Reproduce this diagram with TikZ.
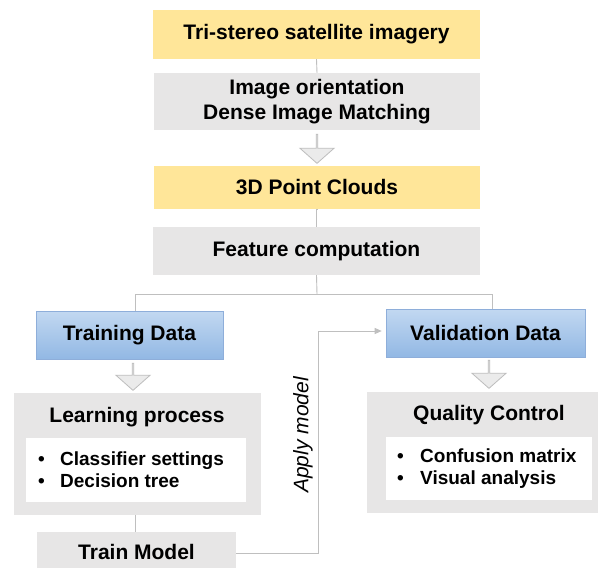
\documentclass[tikz,border=0pt]{standalone}
\usepackage{fontspec}
\setmainfont{Liberation Sans}
\usetikzlibrary{shapes.arrows,arrows.meta}
\definecolor{yel}{HTML}{FFE699}
\definecolor{gbox}{HTML}{E7E6E6}
\definecolor{bluetop}{HTML}{C2D8F1}
\definecolor{bluebot}{HTML}{92B8E4}
\definecolor{blueedge}{HTML}{8EAEDA}
\definecolor{linec}{HTML}{BFBFBF}
\definecolor{arrfill}{HTML}{EBEBEB}
\definecolor{arredge}{HTML}{BDBDBD}
\tikzset{
  box/.style={inner sep=0pt, align=center, font=\fontsize{21}{25}\selectfont\bfseries},
  yelbox/.style={box, fill=yel},
  graybox/.style={box, fill=gbox},
  bluebox/.style={box, top color=bluetop, bottom color=bluebot, draw=blueedge, line width=0.6pt},
  innerbox/.style={fill=white, inner sep=0pt},
  bullets/.style={inner sep=0pt, align=left, font=\fontsize{19}{22}\selectfont\bfseries},
  conn/.style={draw=linec, line width=0.9pt},
  blockarr/.style={single arrow, draw=arredge, fill=arrfill, line width=0.8pt, rotate=-90,
    minimum width=34pt, single arrow head extend=8.5pt, single arrow tip angle=97, inner sep=0pt},
}
\begin{document}
\begin{tikzpicture}[x=1pt, y=-1pt]
\clip (0,0) rectangle (598,568);
\fill[white] (0,0) rectangle (598,568);
% main column
\node[yelbox, minimum width=327pt, minimum height=49pt] (tri) at (316.5,34.5) {Tri-stereo satellite imagery};
\node[graybox, minimum width=326pt, minimum height=57pt] (img) at (317,101.5) {Image orientation\\Dense Image Matching};
\node[blockarr, minimum height=29pt] (a1) at (317,148.5) {};
\node[yelbox, minimum width=326pt, minimum height=43pt] (pc) at (317,187.5) {3D Point Clouds};
\node[graybox, minimum width=327pt, minimum height=48pt] (feat) at (316.5,251) {Feature computation};
% left branch
\node[bluebox, minimum width=187pt, minimum height=48pt] (train) at (129.5,335) {Training Data};
\node[blockarr, minimum height=27pt] (a2) at (133,376.5) {};
\node[graybox, minimum width=247pt, minimum height=122pt] (learn) at (137.5,454) {};
\node[box] (learnt) at (137,417) {Learning process};
\node[innerbox, minimum width=220pt, minimum height=64pt] (learnin) at (136,470) {};
\node[bullets, anchor=west] (learnb) at (38,470) {\makebox[22pt][l]{\textbullet}Classifier settings\\\makebox[22pt][l]{\textbullet}Decision tree};
\node[graybox, minimum width=199pt, minimum height=40pt] (tm) at (136.5,552) {Train Model};
% right branch
\node[bluebox, minimum width=199pt, minimum height=48pt] (val) at (485.5,333) {Validation Data};
\node[blockarr, minimum height=28pt] (a3) at (489,374) {};
\node[graybox, minimum width=234pt, minimum height=121pt] (qc) at (484,452.5) {};
\node[box] (qct) at (489,415) {Quality Control};
\node[innerbox, minimum width=206pt, minimum height=63pt] (qcin) at (489,468.5) {};
\node[bullets, anchor=west] (qcb) at (397,469) {\makebox[23pt][l]{\textbullet}Confusion matrix\\\makebox[23pt][l]{\textbullet}Visual analysis};
% connectors
\coordinate (split) at (317,294);
\coordinate (sl) at (135,294);
\coordinate (sr) at (492,294);
\coordinate (am1) at (318,553);
\coordinate (am2) at (318,331);
\draw[conn] (tri.south) -- (img.north);
\draw[conn] (pc.south) -- (feat.south |- pc.south) -- (feat.north);
\draw[conn] (feat.south) -- (split);
\draw[conn] (train.north -| sl) -- (sl) -- (sr) -- (val.north -| sr);
\draw[conn] (learn.south -| sl) -- (tm.north -| sl);
\draw[conn, -{Triangle[length=7pt,width=6pt]}, shorten >=4pt] (tm.east |- am1) -- (am1) -- (am2) -- (val.west |- am2);
\node[rotate=90, inner sep=0pt, font=\fontsize{21}{25}\selectfont\itshape] (aml) at (303,435) {Apply model};
\end{tikzpicture}
\end{document}
